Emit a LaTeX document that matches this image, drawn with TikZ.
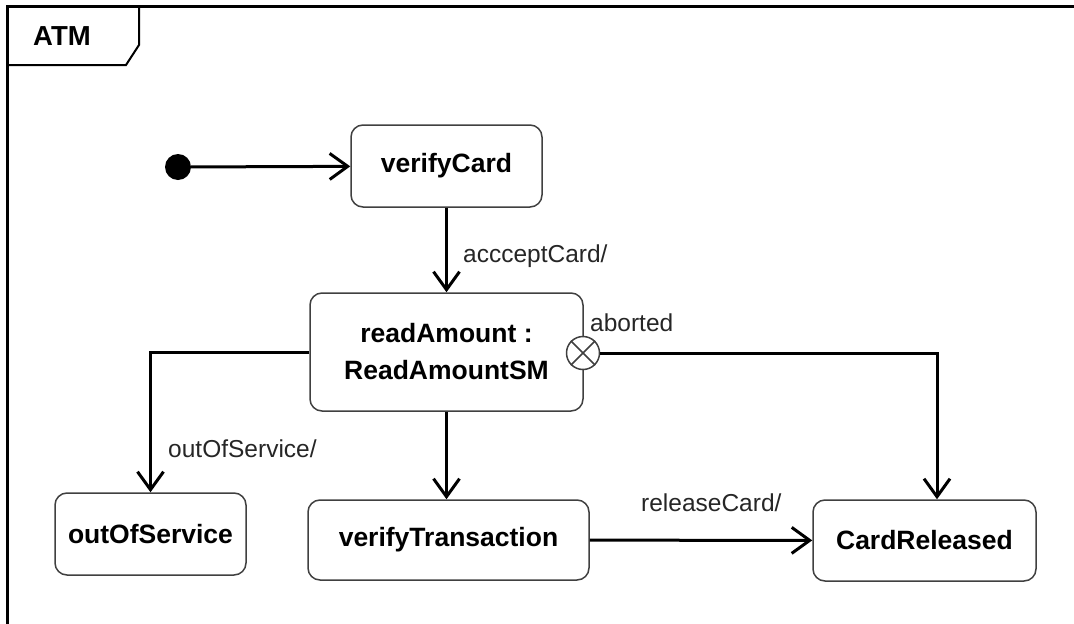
\documentclass[tikz,border=0pt]{standalone}
\usepackage{fontspec}
\setmainfont{Liberation Sans}
\usetikzlibrary{arrows.meta}
\begin{document}
\begin{tikzpicture}[x=1pt,y=-1pt,
  state/.style={draw=black!75, line width=1.5pt, rounded corners=12pt, fill=white,
    font=\fontsize{26.5}{37}\selectfont\bfseries, align=center, inner sep=0pt},
  arr/.style={line width=3pt, -{Straight Barb[length=18pt,width=26pt,line width=3pt]}},
  elabel/.style={font=\fontsize{24.5}{29}\selectfont, text=black!85, inner sep=0pt, anchor=west},
  frame/.style={line width=3pt, line cap=rect}
]
\useasboundingbox (0,0) rectangle (1074,624);
% frame
\draw[frame] (7,624) -- (7,6) -- (1074,6);
\draw[line width=2pt] (139,6) -- (139,45) -- (126,65) -- (7,65);
\node[font=\fontsize{27.5}{32}\selectfont\bfseries, inner sep=0pt] (title) at (62,36) {ATM};
% initial
\node[circle, fill=black, minimum size=26pt, inner sep=0pt] (init) at (178,167) {};
% states
\node[state, minimum width=191pt, minimum height=82pt] (verifyCard) at (446.5,166) {verifyCard};
\node[state, minimum width=273pt, minimum height=118pt] (readAmount) at (446.5,352) {readAmount :\\ReadAmountSM};
\node[state, minimum width=191pt, minimum height=82pt] (outOfService) at (150.5,534) {outOfService};
\node[state, minimum width=281pt, minimum height=80pt] (verifyTransaction) at (448.5,540) {verifyTransaction};
\node[state, minimum width=223pt, minimum height=81pt] (CardReleased) at (924.5,540.5) {CardReleased};
% exit point
\node[circle, draw=black!75, line width=1.5pt, fill=white, minimum size=33pt, inner sep=0pt] (exit) at (583,353) {};
\draw[black!75, line width=1.5pt] (exit.north west) -- (exit.south east);
\draw[black!75, line width=1.5pt] (exit.north east) -- (exit.south west);
% connectors
\draw[arr] (init) -- (verifyCard);
\draw[arr] (verifyCard) -- (readAmount);
\draw[arr] (readAmount.west) -| (outOfService.north);
\draw[arr] (readAmount.south) -- (readAmount.south |- verifyTransaction.north);
\draw[arr] (exit.east) -| ([xshift=12.5pt]CardReleased.north);
\draw[arr] (verifyTransaction) -- (CardReleased);
% labels
\node[elabel] (l1) at (463,256) {accceptCard/};
\node[elabel] (l2) at (168,449) {outOfService/};
\node[elabel] (l3) at (641,503) {releaseCard/};
\node[elabel] (l4) at (590,323) {aborted};
\end{tikzpicture}
\end{document}
